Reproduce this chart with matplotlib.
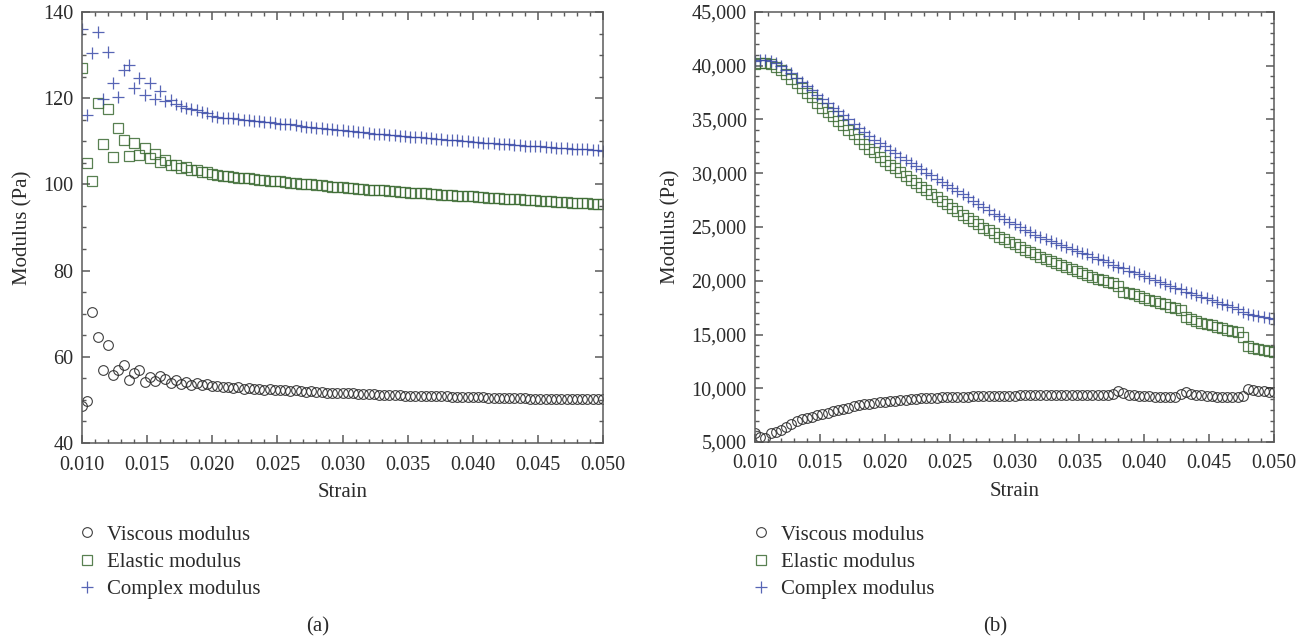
import numpy as np
import matplotlib
matplotlib.use("Agg")
import matplotlib.pyplot as plt
from matplotlib.ticker import MultipleLocator, FuncFormatter

plt.rcParams['font.family'] = ['Liberation Serif', 'DejaVu Serif']

# ---- panel (a) ----
visc_a = [48.6, 49.8, 70.5, 64.5, 56.9, 62.7, 55.8, 56.9, 58.1, 54.6,
          56.2, 57.0, 54.2, 55.3, 54.5, 55.6, 54.8, 54.0, 54.7, 53.8,
          54.2, 53.5, 53.9, 53.4, 53.6, 53.2, 53.3, 52.9, 53.1, 52.8,
          52.9, 52.6, 52.8, 52.5, 52.6, 52.4, 52.5, 52.3, 52.4, 52.2,
          52.1, 52.2, 52.0, 51.9, 52.0, 51.8, 51.8, 51.7, 51.7, 51.6,
          51.6, 51.5, 51.5, 51.4, 51.4, 51.3, 51.3, 51.2, 51.2, 51.2,
          51.1, 51.1, 51.0, 51.0, 51.0, 50.9, 50.9, 50.9, 50.8, 50.8,
          50.8, 50.7, 50.7, 50.7, 50.7, 50.6, 50.6, 50.6, 50.5, 50.5,
          50.5, 50.5, 50.4, 50.4, 50.4, 50.4, 50.3, 50.3, 50.3, 50.3,
          50.3, 50.2, 50.2, 50.2, 50.2, 50.2, 50.1, 50.1, 50.1, 50.1, 50.1]
elas_a = [126.9, 105.0, 100.8, 119.0, 109.4, 117.6, 106.4, 113.2, 110.3, 106.6,
          109.6, 106.8, 108.4, 106.2, 107.0, 105.2, 105.6, 104.4, 104.6, 103.8,
          104.0, 103.3, 103.4, 102.9, 102.8, 102.3, 102.2, 102.0, 101.9, 101.8,
          101.6, 101.5, 101.4, 101.2, 101.1, 101.0, 100.9, 100.8, 100.7, 100.5,
          100.4, 100.3, 100.2, 100.1, 100.0, 99.9, 99.8, 99.6, 99.5, 99.4,
          99.3, 99.2, 99.1, 99.0, 98.9, 98.8, 98.7, 98.6, 98.6, 98.5,
          98.4, 98.3, 98.2, 98.1, 98.0, 98.0, 97.9, 97.8, 97.7, 97.6,
          97.5, 97.5, 97.4, 97.3, 97.2, 97.2, 97.1, 97.0, 96.9, 96.9,
          96.8, 96.7, 96.6, 96.6, 96.5, 96.4, 96.3, 96.3, 96.2, 96.1,
          96.1, 96.0, 95.9, 95.9, 95.8, 95.7, 95.7, 95.6, 95.5, 95.5, 95.4]
comp_a = [136.0, 116.1, 130.4, 135.4, 119.7, 130.8, 123.5, 120.3, 126.5, 127.7,
          122.3, 124.6, 120.7, 123.6, 119.9, 121.7, 119.3, 119.6, 118.6, 118.2,
          117.8, 117.5, 117.2, 116.9, 116.5, 115.8, 115.7, 115.5, 115.4, 115.3,
          115.2, 115.0, 114.9, 114.8, 114.6, 114.5, 114.4, 114.3, 114.1, 114.0,
          113.9, 113.7, 113.6, 113.4, 113.3, 113.2, 113.0, 112.9, 112.8, 112.7,
          112.6, 112.5, 112.3, 112.2, 112.1, 112.0, 111.8, 111.7, 111.6, 111.5,
          111.4, 111.3, 111.2, 111.1, 111.0, 110.9, 110.8, 110.7, 110.6, 110.5,
          110.4, 110.3, 110.2, 110.1, 110.0, 109.9, 109.8, 109.7, 109.6, 109.5,
          109.4, 109.3, 109.3, 109.2, 109.1, 109.0, 108.9, 108.8, 108.8, 108.7,
          108.6, 108.5, 108.5, 108.4, 108.3, 108.2, 108.2, 108.1, 108.0, 107.9, 107.8]

# ---- panel (b) ----
visc_b = [5820, 5510, 5400, 5820, 5950, 6150, 6380, 6650, 6950, 7100,
          7230, 7350, 7470, 7580, 7720, 7850, 7960, 8080, 8200, 8310,
          8420, 8500, 8570, 8640, 8700, 8760, 8800, 8850, 8900, 8940,
          8980, 9020, 9050, 9080, 9100, 9130, 9150, 9170, 9190, 9200,
          9220, 9230, 9250, 9260, 9270, 9280, 9290, 9300, 9310, 9300,
          9320, 9330, 9330, 9340, 9340, 9350, 9340, 9350, 9360, 9350,
          9360, 9360, 9370, 9360, 9370, 9360, 9350, 9370, 9380, 9450,
          9700, 9600, 9400, 9350, 9300, 9280, 9250, 9230, 9200, 9180,
          9170, 9200, 9450, 9650, 9500, 9400, 9350, 9300, 9260, 9230,
          9200, 9180, 9150, 9140, 9300, 9900, 9850, 9780, 9720, 9680, 9650]
elas_b = [40200, 40250, 40250, 40150, 39900, 39600, 39200, 38800, 38400, 37950,
          37500, 37050, 36550, 36100, 35700, 35300, 34900, 34500, 34050, 33650,
          33200, 32750, 32300, 31950, 31550, 31150, 30800, 30450, 30100, 29750,
          29400, 29050, 28700, 28400, 28050, 27750, 27450, 27100, 26800, 26500,
          26150, 25850, 25550, 25250, 24950, 24700, 24400, 24100, 23850, 23600,
          23400, 23150, 22900, 22700, 22450, 22250, 22050, 21850, 21650, 21450,
          21250, 21100, 20950, 20750, 20550, 20350, 20200, 20050, 19900, 19750,
          19550, 18950, 18850, 18750, 18600, 18400, 18250, 18100, 17950, 17800,
          17600, 17450, 17250, 16650, 16450, 16250, 16100, 15950, 15850, 15700,
          15600, 15450, 15350, 15250, 14800, 13900, 13750, 13650, 13550, 13450, 13350]
comp_b = [40400, 40500, 40550, 40450, 40250, 40000, 39650, 39300, 38900, 38500,
          38100, 37700, 37300, 36900, 36500, 36100, 35750, 35400, 35000, 34600,
          34200, 33850, 33450, 33100, 32800, 32500, 32150, 31850, 31550, 31250,
          31000, 30650, 30350, 30050, 29800, 29500, 29200, 28950, 28650, 28350,
          28050, 27750, 27450, 27150, 26850, 26550, 26250, 26000, 25700, 25450,
          25250, 25000, 24750, 24550, 24300, 24100, 23900, 23700, 23500, 23300,
          23150, 22950, 22800, 22600, 22450, 22250, 22050, 21900, 21700, 21500,
          21320, 21150, 20950, 20780, 20600, 20420, 20250, 20070, 19900, 19720,
          19540, 19360, 19200, 19000, 18850, 18680, 18500, 18350, 18200, 18030,
          17870, 17720, 17560, 17400, 17100, 16950, 16850, 16750, 16650, 16550, 16450]

labels = ["Viscous modulus", "Elastic modulus", "Complex modulus"]
c_visc = "#2a2a2a"
c_elas = "#3b6a32"
c_comp = "#3a4aa8"
spine_c = "#5a5a5a"
txt_c = "#2b2b2b"
fs = 15
tfs = 14.5

fig = plt.figure(figsize=(13.09, 6.42), dpi=100)
ax1 = fig.add_axes([82/1309, 1-443/642, (603-82)/1309, (443-12)/642])
ax2 = fig.add_axes([755/1309, 1-442/642, (1274-755)/1309, (442-12)/642])


def draw(ax, visc, elas, comp):
    strain = np.linspace(0.010, 0.050, len(visc))
    h1, = ax.plot(strain, visc, 'o', ms=7, mfc='none', mec=c_visc, mew=0.8, alpha=0.9)
    h2, = ax.plot(strain, elas, 's', ms=7, mfc='none', mec=c_elas, mew=0.9, alpha=0.85)
    h3, = ax.plot(strain, comp, '+', ms=9, mec=c_comp, mew=0.9, alpha=0.85)
    ax.set_xlim(0.010, 0.050)
    ax.xaxis.set_major_locator(MultipleLocator(0.005))
    ax.xaxis.set_minor_locator(MultipleLocator(0.001))
    ax.xaxis.set_major_formatter(FuncFormatter(lambda v, p: "%.3f" % v))
    ax.tick_params(which='both', direction='in', top=True, right=True,
                   color=spine_c, labelcolor=txt_c, labelsize=tfs)
    ax.tick_params(which='major', length=6, width=1.1)
    ax.tick_params(which='minor', length=3, width=1.0)
    ax.tick_params(axis='x', which='major', pad=9)
    ax.tick_params(axis='y', which='major', pad=6)
    for sp in ax.spines.values():
        sp.set_color(spine_c)
        sp.set_linewidth(1.1)
    ax.set_xlabel("Strain", fontsize=fs, color=txt_c, labelpad=6)
    ax.set_ylabel("Modulus (Pa)", fontsize=fs, color=txt_c, labelpad=8)
    return [h1, h2, h3]


hs = draw(ax1, visc_a, elas_a, comp_a)
ax1.set_ylim(40, 140)
ax1.yaxis.set_major_locator(MultipleLocator(20))
ax1.yaxis.set_minor_locator(MultipleLocator(5))

draw(ax2, visc_b, elas_b, comp_b)
ax2.set_ylim(5000, 45000)
ax2.yaxis.set_major_locator(MultipleLocator(5000))
ax2.yaxis.set_minor_locator(MultipleLocator(1000))
ax2.yaxis.set_major_formatter(FuncFormatter(lambda v, p: "{:,.0f}".format(v)))

for ax, x0 in [(ax1, 76.6), (ax2, 751)]:
    ax.legend(hs, labels, loc='upper left', bbox_to_anchor=(x0/1309, 1-525/642),
              bbox_transform=fig.transFigure, frameon=False, fontsize=fs,
              handlelength=1.0, handletextpad=0.46, labelspacing=0.37,
              borderpad=0, borderaxespad=0, labelcolor=txt_c)

fig.text(318/1309, 1-627/642, "(a)", ha='center', va='center', fontsize=fs, color=txt_c)
fig.text(995/1309, 1-627/642, "(b)", ha='center', va='center', fontsize=fs, color=txt_c)

fig.savefig("out.png", dpi=100)
